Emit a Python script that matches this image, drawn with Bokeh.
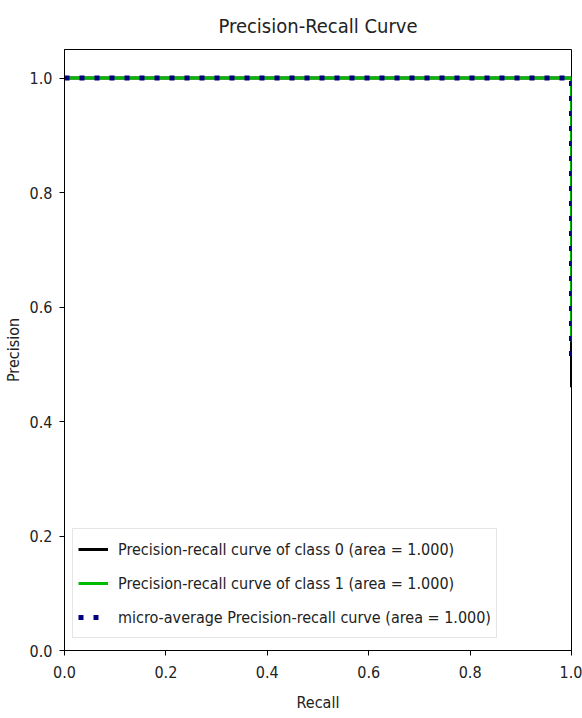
from bokeh.plotting import figure
from bokeh.models import Range1d, Legend, LegendItem, FixedTicker, PrintfTickFormatter
from bokeh.embed import file_html
from bokeh.resources import INLINE

# data (precision-recall curves, plotted recall vs precision)
recall_c0 = [0.0, 1.0, 1.0]
precision_c0 = [1.0, 1.0, 0.46]
recall_c1 = [0.0, 1.0, 1.0]
precision_c1 = [1.0, 1.0, 0.54]
recall_micro = [0.0, 1.0, 1.0]
precision_micro = [1.0, 1.0, 0.50]
labels = [
    "Precision-recall curve of class 0 (area = 1.000)",
    "Precision-recall curve of class 1 (area = 1.000)",
    "micro-average Precision-recall curve (area = 1.000)",
]
ticks = [0.0, 0.2, 0.4, 0.6, 0.8, 1.0]

FONT = "DejaVu Sans Condensed, DejaVu Sans"

p = figure(width=582, height=718, output_backend="svg", toolbar_location=None,
           x_range=Range1d(0, 1), y_range=Range1d(0, 1.05),
           min_border_left=64, min_border_right=11, min_border_top=48, min_border_bottom=68)

p.title.text = "Precision-Recall Curve"
p.title.align = "center"
p.title.text_font = FONT
p.title.text_font_size = "20px"
p.title.text_font_style = "normal"
p.title.text_color = "#222222"
p.title.standoff = 23

r0 = p.line(recall_c0, precision_c0, line_color="black", line_width=3)
r1 = p.line(recall_c1, precision_c1, line_color="#00bc00", line_width=3)
r2 = p.line(recall_micro, precision_micro, line_color="navy", line_width=5,
            line_dash="5 10", line_cap="butt")

p.xgrid.visible = False
p.ygrid.visible = False
p.outline_line_color = "black"
p.outline_line_width = 1

for ax in (p.xaxis[0], p.yaxis[0]):
    ax.ticker = FixedTicker(ticks=ticks)
    ax.formatter = PrintfTickFormatter(format="%.1f")
    ax.minor_tick_line_color = None
    ax.major_tick_in = 0
    ax.major_tick_out = 5
    ax.major_tick_line_color = "black"
    ax.axis_line_color = "black"
    ax.major_label_text_font = FONT
    ax.major_label_text_font_size = "16px"
    ax.major_label_text_color = "#222222"
    ax.axis_label_text_font = FONT
    ax.axis_label_text_font_size = "16px"
    ax.axis_label_text_font_style = "normal"
    ax.axis_label_text_color = "#222222"

p.xaxis.major_label_standoff = 10
p.xaxis.axis_label_standoff = 12
p.yaxis.major_label_standoff = 7
p.yaxis.axis_label_standoff = 4
p.xaxis.axis_label = "Recall"
p.yaxis.axis_label = "Precision"

legend = Legend(items=[LegendItem(label=labels[0], renderers=[r0]),
                       LegendItem(label=labels[1], renderers=[r1]),
                       LegendItem(label=labels[2], renderers=[r2])],
                location=(8, 12), margin=0, padding=5, spacing=4,
                glyph_width=30, glyph_height=30, label_height=30, label_standoff=10,
                label_text_font=FONT, label_text_font_size="16px", label_text_color="#222222",
                border_line_color="#cccccc", border_line_width=1,
                background_fill_color="white", background_fill_alpha=0.8)
p.add_layout(legend, "center")

open("out.html", "w").write(file_html(p, INLINE))
